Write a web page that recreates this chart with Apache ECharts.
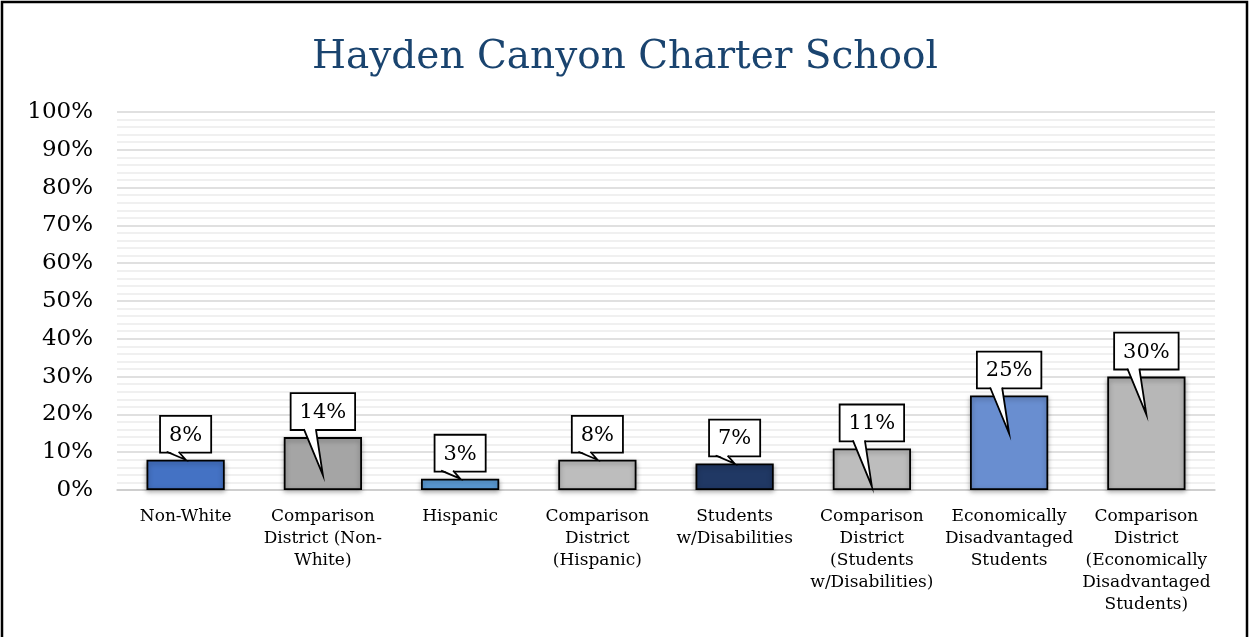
<!DOCTYPE html>
<html>
<head>
<meta charset="utf-8">
<script src="https://cdn.jsdelivr.net/npm/echarts@6/dist/echarts.min.js"></script>
<style>
  html, body { margin: 0; padding: 0; background: #fff; }
  #chart { width: 1250px; height: 637px; }
</style>
</head>
<body>
<div id="chart"></div>
<script>
// chart data
const categories = [
    'Non-White',
    'Comparison\nDistrict (Non-\nWhite)',
    'Hispanic',
    'Comparison\nDistrict\n(Hispanic)',
    'Students\nw/Disabilities',
    'Comparison\nDistrict\n(Students\nw/Disabilities)',
    'Economically\nDisadvantaged\nStudents',
    'Comparison\nDistrict\n(Economically\nDisadvantaged\nStudents)'
];
const values = [8, 14, 3, 8, 7, 11, 25, 30];

// styling
const barColors = ['#4472C4', '#A5A5A5', '#5B9BD5', '#BDBDBD', '#203864', '#BDBDBD', '#698ED0', '#B7B7B7'];
const longPointer = [false, true, false, false, false, true, true, true];
const serif = '"DejaVu Serif", "Liberation Serif", serif';

let chart = echarts.init(document.getElementById('chart'));

let option = {
    animation: false,
    title: {
        text: 'Hayden Canyon Charter School',
        left: 'center',
        top: 33,
        textStyle: {
            fontFamily: serif,
            fontWeight: 'normal',
            fontSize: 39,
            color: '#1A446F'
        }
    },
    graphic: [{
        type: 'rect',
        shape: { x: 2, y: 2, width: 1245, height: 700 },
        style: { fill: 'none', stroke: '#000', lineWidth: 2.5 },
        silent: true
    }],
    grid: {
        left: 117,
        right: 35,
        top: 112,
        bottom: 147
    },
    xAxis: {
        type: 'category',
        data: categories,
        axisLine: { show: true, lineStyle: { color: '#c8c8c8', width: 1.5 } },
        axisTick: { show: false },
        axisLabel: {
            interval: 0,
            margin: 16,
            fontFamily: serif,
            fontSize: 17,
            lineHeight: 22,
            color: '#000'
        }
    },
    yAxis: {
        type: 'value',
        min: 0,
        max: 100,
        interval: 10,
        axisLine: { show: false },
        axisTick: { show: false },
        axisLabel: {
            formatter: '{value}%',
            margin: 24,
            fontFamily: serif,
            fontSize: 23,
            color: '#000'
        },
        splitLine: { lineStyle: { color: '#d6d6d6', width: 1.5 } },
        minorTick: { show: false, splitNumber: 5 },
        minorSplitLine: { show: true, lineStyle: { color: '#ececec', width: 1.5 } }
    },
    series: [{
        type: 'bar',
        data: values.map((v, i) => ({ value: v, itemStyle: { color: barColors[i] } })),
        barWidth: '57%',
        itemStyle: {
            borderColor: '#000',
            borderWidth: 1.8,
            shadowColor: 'rgba(0,0,0,0.35)',
            shadowBlur: 5,
            shadowOffsetY: 2
        }
    }, {
        // callout labels above each bar
        type: 'custom',
        data: values.map((v, i) => [i, v]),
        encode: { x: 0, y: 1 },
        z: 10,
        renderItem: function (params, api) {
            let idx = api.value(0);
            let top = api.coord([idx, api.value(1)]);
            let cx = top[0];
            let boxBottom = top[1] - 8;
            let tipY = longPointer[params.dataIndex] ? top[1] + 38 : top[1];
            let b1 = cx - 19, b2 = cx - 7;
            return {
                type: 'group',
                children: [{
                    type: 'text',
                    style: {
                        text: api.value(1) + '%',
                        x: cx,
                        y: boxBottom,
                        align: 'center',
                        verticalAlign: 'bottom',
                        fontFamily: serif,
                        fontSize: 21,
                        fill: '#000',
                        backgroundColor: '#fff',
                        borderColor: '#000',
                        borderWidth: 1.8,
                        padding: [8, 8, 6, 8]
                    }
                }, {
                    type: 'polygon',
                    shape: { points: [[b1, boxBottom - 1.5], [cx, tipY], [b2, boxBottom - 1.5]] },
                    style: { fill: '#fff', stroke: null }
                }, {
                    type: 'polyline',
                    shape: { points: [[b1, boxBottom], [cx, tipY], [b2, boxBottom]] },
                    style: { fill: null, stroke: '#000', lineWidth: 1.8 }
                }]
            };
        }
    }]
};

chart.setOption(option);
window.addEventListener('resize', function () {
    chart.resize();
});
</script>
</body>
</html>
